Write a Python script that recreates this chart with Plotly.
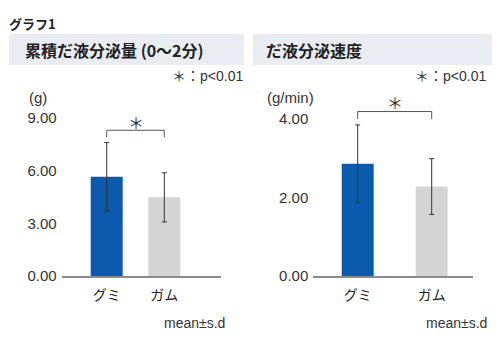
import plotly.graph_objects as go

categories = ["グミ", "ガム"]
left_mean = [5.65, 4.48]
left_sd = [1.95, 1.40]
right_mean = [2.86, 2.28]
right_sd = [0.99, 0.71]
left_ticks = [0, 3, 6, 9]
right_ticks = [0, 2, 4]
bar_colors = ["#0b5aae", "#d4d4d4"]

W, H = 500, 348
def px(x): return x / W
def py(y): return 1 - y / H

FONT = "Liberation Sans, Noto Sans CJK JP, sans-serif"
JP = "Noto Sans CJK JP, sans-serif"
xs = list(range(len(categories)))

fig = go.Figure()
fig.add_trace(go.Bar(x=xs, y=left_mean, width=0.556, marker=dict(color=bar_colors, line=dict(width=0)),
                     error_y=dict(type="data", array=left_sd, color="#333333", thickness=1, width=2.5),
                     xaxis="x", yaxis="y", showlegend=False))
fig.add_trace(go.Bar(x=xs, y=right_mean, width=0.432, marker=dict(color=bar_colors, line=dict(width=0)),
                     error_y=dict(type="data", array=right_sd, color="#333333", thickness=1, width=2.5),
                     xaxis="x2", yaxis="y2", showlegend=False))

lscale = 17.56
rscale = 39.25
lmax = 9.6
rmax = 4.6
common_x = dict(showgrid=False, zeroline=False, showline=True, linecolor="#8a8a8a", linewidth=1.5,
                ticks="", tickmode="array", tickvals=xs, ticktext=categories, automargin=False,
                tickfont=dict(family=JP, size=14, color="#222"), ticklabelstandoff=5, fixedrange=True)
common_y = dict(showgrid=False, zeroline=False, showline=False, ticks="", tickformat=".2f", automargin=False,
                tickfont=dict(family=FONT, size=15, color="#333"), ticklabelstandoff=4, fixedrange=True)

fig.update_layout(
    width=W, height=H, margin=dict(l=0, r=0, t=0, b=0, pad=0), autosize=False,
    paper_bgcolor="white", plot_bgcolor="white", barmode="overlay",
    xaxis=dict(common_x, domain=[px(61.7), px(220.7)], range=[-0.781, 1.979], anchor="y"),
    yaxis=dict(common_y, domain=[py(276), py(276 - lmax * lscale)], range=[0, lmax],
               tickvals=left_ticks, anchor="x"),
    xaxis2=dict(common_x, domain=[px(313.3), px(472.7)], range=[-0.6, 1.554], anchor="y2"),
    yaxis2=dict(common_y, domain=[py(276), py(276 - rmax * rscale)], range=[0, rmax],
                tickvals=right_ticks, anchor="x2"),
)

shapes = []
shapes.append(dict(type="rect", xref="paper", yref="paper", x0=px(9), x1=px(244), y0=py(65), y1=py(34),
                   fillcolor="#e9edf1", line=dict(width=0), layer="below"))
shapes.append(dict(type="rect", xref="paper", yref="paper", x0=px(253), x1=px(492), y0=py(65), y1=py(34),
                   fillcolor="#e9edf1", line=dict(width=0), layer="below"))
for xr, yr, ytop, ybot in [("x", "y", 8.3, 7.9), ("x2", "y2", 4.19, 4.0)]:
    shapes.append(dict(type="path", xref=xr, yref=yr,
                       path=f"M 0 {ybot} L 0 {ytop} L 1 {ytop} L 1 {ybot}",
                       line=dict(color="#555", width=1)))
fig.update_layout(shapes=shapes)

ann = []
ann.append(dict(text="<b>グラフ1</b>", x=px(32.5), y=py(23), xref="paper", yref="paper", xanchor="center",
                yanchor="middle", showarrow=False, font=dict(family=JP, size=13, color="#222")))
ann.append(dict(text="<b>累積だ液分泌量 (0〜2分)</b>", x=px(114), y=py(50), xref="paper", yref="paper",
                xanchor="center", yanchor="middle", showarrow=False, font=dict(family=JP, size=16, color="#222")))
ann.append(dict(text="<b>だ液分泌速度</b>", x=px(314), y=py(50), xref="paper", yref="paper",
                xanchor="center", yanchor="middle", showarrow=False, font=dict(family=JP, size=16, color="#222")))
for xc in [207, 450]:
    ann.append(dict(text="＊：p<0.01", x=px(xc), y=py(76), xref="paper", yref="paper", xanchor="center",
                    yanchor="middle", showarrow=False, font=dict(family=FONT, size=14, color="#333")))
ann.append(dict(text="(g)", x=px(37.5), y=py(97), xref="paper", yref="paper", xanchor="center",
                yanchor="middle", showarrow=False, font=dict(family=FONT, size=15, color="#333")))
ann.append(dict(text="(g/min)", x=px(290), y=py(97), xref="paper", yref="paper", xanchor="center",
                yanchor="middle", showarrow=False, font=dict(family=FONT, size=15, color="#333")))
ann.append(dict(text="＊", x=0.5, y=8.75, xref="x", yref="y", xanchor="center", yanchor="middle",
                showarrow=False, font=dict(family=JP, size=16, color="#333")))
ann.append(dict(text="＊", x=0.5, y=4.44, xref="x2", yref="y2", xanchor="center", yanchor="middle",
                showarrow=False, font=dict(family=JP, size=16, color="#333")))
for xc in [194.5, 456.5]:
    ann.append(dict(text="mean±s.d", x=px(xc), y=py(323), xref="paper", yref="paper", xanchor="center",
                    yanchor="middle", showarrow=False, font=dict(family=FONT, size=14, color="#333")))
fig.update_layout(annotations=ann)

fig.write_html("out.html")
